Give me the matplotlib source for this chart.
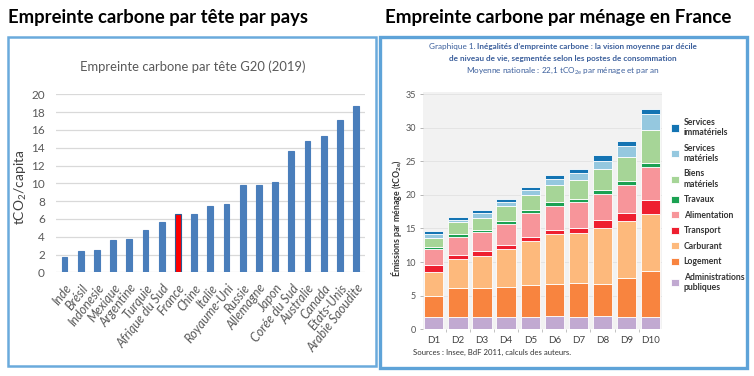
import numpy as np
import matplotlib
matplotlib.use("Agg")
from matplotlib import pyplot as plt
from matplotlib.patches import Rectangle

plt.rcParams['font.family'] = ['Lato', 'DejaVu Sans']
plt.rcParams['mathtext.default'] = 'regular'

W, H = 754, 376

# --- left chart data (tCO2 per capita, 2019)
pays = ["Inde", "Brésil", "Indonesie", "Mexique", "Argentine", "Turquie",
        "Afrique du Sud", "France", "Chine", "Italie", "Royaume-Uni", "Russie",
        "Allemagne", "Japon", "Corée du Sud", "Australie", "Canada",
        "Etats-Unis", "Arabie Saoudite"]
empreinte = [1.7, 2.4, 2.5, 3.6, 3.7, 4.7, 5.7, 6.5, 6.6, 7.5, 7.7, 9.8,
             9.8, 10.1, 13.6, 14.8, 15.3, 17.1, 18.7]
g20_ticks = [0, 2, 4, 6, 8, 10, 12, 14, 16, 18, 20]

# --- right chart data (tCO2e per household, by decile)
deciles = ["D1", "D2", "D3", "D4", "D5", "D6", "D7", "D8", "D9", "D10"]
admin = [1.8, 1.9, 1.8, 1.9, 1.9, 2.0, 1.9, 2.0, 1.9, 1.9]
logement = [3.2, 4.3, 4.4, 4.4, 4.7, 4.8, 5.0, 4.8, 5.8, 6.7]
carburant = [3.5, 4.3, 4.7, 5.6, 6.6, 7.4, 7.4, 8.3, 8.4, 8.5]
transport = [1.0, 0.6, 0.7, 0.6, 0.6, 0.6, 0.8, 1.2, 1.2, 2.1]
alimentation = [2.4, 2.7, 2.8, 3.2, 3.5, 3.6, 3.8, 3.9, 4.2, 4.9]
travaux = [0.3, 0.4, 0.4, 0.4, 0.4, 0.5, 0.5, 0.5, 0.6, 0.7]
biens = [1.4, 1.7, 1.7, 2.2, 2.3, 2.5, 2.8, 3.1, 3.5, 4.8]
serv_mat = [0.6, 0.4, 0.8, 0.7, 0.7, 0.9, 1.0, 1.3, 1.7, 2.4]
serv_imm = [0.4, 0.4, 0.4, 0.4, 0.4, 0.6, 0.6, 0.8, 0.7, 0.8]
menage_ticks = [0, 5, 10, 15, 20, 25, 30, 35]

postes = [
    ("Administrations\npubliques", admin, "#c1a9d1"),
    ("Logement", logement, "#f8843f"),
    ("Carburant", carburant, "#fdb97c"),
    ("Transport", transport, "#ee1f30"),
    ("Alimentation", alimentation, "#f7959a"),
    ("Travaux", travaux, "#1ba152"),
    ("Biens\nmatériels", biens, "#a6d597"),
    ("Services\nmatériels", serv_mat, "#95c8df"),
    ("Services\nimmatériels", serv_imm, "#1474b3"),
]


def box(x0, y0, x1, y1):
    # pixel box (top-left origin) -> figure fraction rect
    return [x0 / W, 1 - y1 / H, (x1 - x0) / W, (y1 - y0) / H]


fig = plt.figure(figsize=(W / 100, H / 100), dpi=100)
r = fig.canvas.get_renderer()


def fit(t, width_px):
    # scale font so the text spans about width_px pixels
    w = t.get_window_extent(r).width
    t.set_fontsize(t.get_fontsize() * width_px / w)
    return t


# frames
fig.patches.append(Rectangle((8 / W, 1 - 366 / H), 368 / W, 329 / H,
                             transform=fig.transFigure, fill=False,
                             edgecolor="#6aaadc", linewidth=1.8))
fig.patches.append(Rectangle((380 / W, 1 - 368 / H), 367 / W, 331 / H,
                             transform=fig.transFigure, fill=False,
                             edgecolor="#5ea3d8", linewidth=2.4))

# headings
fit(fig.text(8 / W, 1 - 17 / H, "Empreinte carbone par tête par pays",
             fontsize=12, fontweight="bold", va="center", ha="left"), 299)
fit(fig.text(385 / W, 1 - 17 / H, "Empreinte carbone par ménage en France",
             fontsize=12, fontweight="bold", va="center", ha="left"), 345)

# ---------------- left chart
ax = fig.add_axes(box(56, 94.3, 365, 272.3))
x = np.arange(len(pays))
cols = ["#ff0000" if p == "France" else "#4a7ebb" for p in pays]
edges = ["#2d5b93" if p == "France" else "#4a7ebb" for p in pays]
ax.bar(x, empreinte, width=0.36, color=cols, edgecolor=edges, linewidth=0.8,
       zorder=3)
ax.set_xlim(-0.52, len(pays) - 0.45)
ax.set_ylim(0, 20)
ax.set_yticks(g20_ticks)
ax.yaxis.grid(True, color="#d9d9d9", linewidth=0.9, zorder=0)
for s in ax.spines.values():
    s.set_visible(False)
ax.tick_params(axis="y", length=0, pad=8, labelsize=8.5, labelcolor="#595959")
ax.tick_params(axis="x", length=0, pad=7, labelsize=9, labelcolor="#595959")
ax.set_xticks(x)
ax.set_xticklabels(pays, rotation=52, ha="right", rotation_mode="anchor",
                   style="italic")
ax.set_ylabel("tCO$_2$/capita", fontsize=10, color="#404040")
ax.yaxis.set_label_coords(-0.088, 0.48)
fit(fig.text(193 / W, 1 - 67 / H, "Empreinte carbone par tête G20 (2019)",
             fontsize=10, color="#595959", ha="center", va="center"), 226)

# ---------------- right chart
ax2 = fig.add_axes(box(423, 92, 662, 329.3))
ax2.set_facecolor("#f2f2f2")
xd = np.arange(len(deciles))
bottom = np.zeros(len(deciles))
handles = []
for label, vals, c in postes:
    b = ax2.bar(xd, vals, bottom=bottom, width=0.8, color=c,
                edgecolor="white", linewidth=0.6, label=label, zorder=3)
    handles.append(b)
    bottom += np.array(vals)
ax2.set_xlim(-0.45, len(deciles) - 0.53)
ax2.set_ylim(0, 35.3)
ax2.set_yticks(menage_ticks)
ax2.yaxis.grid(True, color="#e2e2e2", linewidth=0.6, zorder=0)
for s in ax2.spines.values():
    s.set_visible(False)
ax2.tick_params(axis="y", length=2, width=0.5, color="#999999", pad=3,
                labelsize=6.5, labelcolor="#555555")
ax2.tick_params(axis="x", length=0, pad=5, labelsize=7, labelcolor="#444444")
ax2.set_xticks(xd)
ax2.set_xticklabels(deciles)
ax2.set_xticks(xd[:-1] + 0.5, minor=True)
ax2.tick_params(axis="x", which="minor", length=2, width=0.5, color="#aaaaaa")
ax2.set_ylabel("Émissions par ménage (tCO$_{2e}$)", fontsize=6.3,
               fontweight="bold", color="#333333")
ax2.yaxis.set_label_coords(-0.078, 0.47)

leg = fig.legend(handles[::-1], [p[0] for p in postes][::-1],
                 loc="upper left", bbox_to_anchor=(663 / W, 1 - 110 / H),
                 frameon=False, fontsize=6.2, handlelength=0.9,
                 handleheight=0.9, handletextpad=0.6, labelspacing=0.75)
for t in leg.get_texts():
    t.set_color("#333333")
    t.set_fontweight("bold")

# chart caption (blue)
blue = "#3b5f9c"
cap = 5.9
t1 = fig.text(0, 1 - 46 / H, "Graphique 1. ", fontsize=cap, color=blue,
              va="center")
t2 = fig.text(0, 1 - 46 / H,
              "Inégalités d\u2019empreinte carbone : la vision moyenne par décile",
              fontsize=cap, color=blue, va="center", fontweight="bold")
w1 = t1.get_window_extent(r).width
w2 = t2.get_window_extent(r).width
x0 = 563 - (w1 + w2) / 2
t1.set_x(x0 / W)
t2.set_x((x0 + w1) / W)
fig.text(563 / W, 1 - 58.5 / H,
         "de niveau de vie, segmentée selon les postes de consommation",
         fontsize=cap, color=blue, va="center", ha="center", fontweight="bold")
fig.text(563 / W, 1 - 71 / H,
         "Moyenne nationale : 22,1 tCO$_{2e}$ par ménage et par an",
         fontsize=cap, color=blue, va="center", ha="center")

fig.text(413 / W, 1 - 352 / H, "Sources : Insee, BdF 2011, calculs des auteurs.",
         fontsize=5.6, color="#333333", va="center")

fig.savefig("out.png", dpi=100)
